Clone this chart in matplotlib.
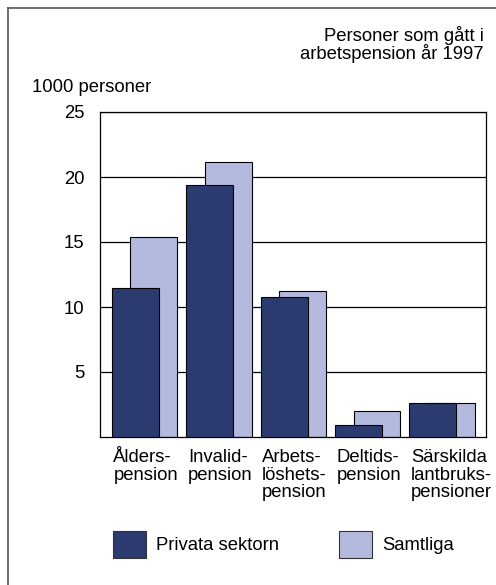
import matplotlib
matplotlib.use("Agg")
import matplotlib.pyplot as plt
from matplotlib.patches import Rectangle
import numpy as np

plt.rcParams['font.family'] = ['Liberation Sans', 'DejaVu Sans']

categories = ["Ålders-\npension", "Invalid-\npension", "Arbets-\nlöshets-\npension",
              "Deltids-\npension", "Särskilda\nlantbruks-\npensioner"]
privata = [11.5, 19.4, 10.8, 0.9, 2.65]
samtliga = [15.4, 21.15, 11.2, 2.0, 2.65]
series_names = ["Privata sektorn", "Samtliga"]
yticks = [5, 10, 15, 20, 25]

dark = "#2c3b6f"
light = "#b4bade"
FS = 13.3

W, H = 496, 585
fig = plt.figure(figsize=(W / 100, H / 100), dpi=100)

def fx(px):
    return px / W

def fy(py):
    return 1 - py / H

ax = fig.add_axes([fx(100), fy(437), fx(486) - fx(100), fy(112) - fy(437)])
x = np.arange(len(categories))
width = 0.63
off = 0.125
ax.bar(x + off, samtliga, width, color=light, edgecolor="black", linewidth=0.8, zorder=2)
ax.bar(x - off, privata, width, color=dark, edgecolor="black", linewidth=0.8, zorder=3)

ax.set_xlim(-0.6, 4.59)
ax.set_ylim(0, 25)
ax.set_yticks(yticks)
ax.set_yticklabels([str(t) for t in yticks], fontsize=FS)
ax.yaxis.grid(True, color="black", linewidth=0.9, zorder=1)
ax.set_axisbelow(True)
ax.tick_params(axis="y", length=0, pad=11)
# labels left-aligned at the left edge of each group's first bar
ax.set_xticks(x - off - width / 2 + 0.02)
ax.set_xticklabels(categories, fontsize=FS, ha="left", multialignment="left", linespacing=1.03)
ax.tick_params(axis="x", length=0, pad=9)
for s in ax.spines.values():
    s.set_linewidth(0.9)
    s.set_color("black")

# outer frame (left and top edges visible)
fig.add_artist(plt.Line2D([fx(8), fx(8)], [fy(8), 0], color="#555555", linewidth=1.2))
fig.add_artist(plt.Line2D([fx(8), 1], [fy(8), fy(8)], color="#555555", linewidth=1.2))

fig.text(fx(484), fy(26), "Personer som gått i\narbetspension år 1997", ha="right", va="top",
         fontsize=FS, linespacing=0.95)
fig.text(fx(32), fy(88), "1000 personer", ha="left", va="center", fontsize=FS)

# legend
for px0, col, name in [(113, dark, series_names[0]), (339, light, series_names[1])]:
    fig.add_artist(Rectangle((fx(px0), fy(558)), fx(33), fy(531) - fy(558),
                             transform=fig.transFigure, facecolor=col,
                             edgecolor="#333333", linewidth=0.8))
    fig.text(fx(px0 + 43), fy(545), name, ha="left", va="center", fontsize=FS)

fig.savefig("out.png", dpi=100)
